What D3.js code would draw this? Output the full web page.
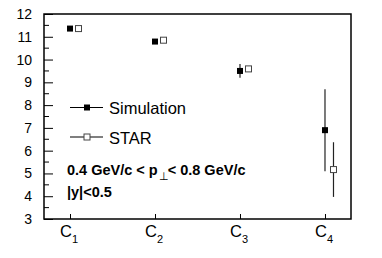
<!DOCTYPE html>
<html>
<head>
<meta charset="utf-8">
<script src="https://cdn.jsdelivr.net/npm/d3@7"></script>
<style>
  body { margin: 0; background: #fff; }
  text { font-family: "Liberation Sans", Arial, sans-serif; }
</style>
</head>
<body>
<div class="chart"></div>
<script>
var categories = [1, 2, 3, 4];
var catLabels = ["1", "2", "3", "4"];
var simValues = [11.36, 10.79, 9.5, 6.9];
var simErrors = [0.05, 0.05, 0.3, 1.8];
var starValues = [11.36, 10.85, 9.59, 5.17];
var starErrors = [0.04, 0.05, 0.08, 1.2];
var yTicks = [3, 4, 5, 6, 7, 8, 9, 10, 11, 12];

function init() {
    var w = 382;
    var h = 258;
    var left = 44, right = 351, top = 14, bottom = 219;
    var starShift = 0.1;

    var x = d3.scaleLinear().domain([0.694, 4.306]).range([left, right]);
    var y = d3.scaleLinear().domain([3, 12]).range([bottom, top]);

    var svg = d3.select(".chart")
        .append("svg")
        .attr("width", w)
        .attr("height", h);

    // frame
    svg.append("rect")
        .attr("x", left).attr("y", top)
        .attr("width", right - left).attr("height", bottom - top)
        .attr("fill", "none").attr("stroke", "#000").attr("stroke-width", 1.5);

    // y axis
    var yAxis = d3.axisLeft(y).tickValues(yTicks).tickSize(-9).tickPadding(12);
    var gy = svg.append("g").attr("transform", "translate(" + left + ",0)").call(yAxis);
    gy.select(".domain").remove();
    gy.selectAll("text").attr("font-size", 14).attr("fill", "#000")
        .attr("font-family", "Liberation Sans, Arial, sans-serif");
    gy.selectAll("line").attr("stroke", "#000");

    var minor = d3.range(3.5, 12, 1);
    svg.selectAll("line.minor")
        .data(minor)
        .enter()
        .append("line")
        .attr("x1", left).attr("x2", left + 5)
        .attr("y1", function(d) { return y(d); })
        .attr("y2", function(d) { return y(d); })
        .attr("stroke", "#000");

    // x axis
    var xAxis = d3.axisBottom(x).tickValues(categories).tickSize(-5).tickFormat("");
    var gx = svg.append("g").attr("transform", "translate(0," + bottom + ")").call(xAxis);
    gx.select(".domain").remove();
    gx.selectAll("line").attr("stroke", "#000");

    var xl = svg.selectAll("text.xlab")
        .data(categories)
        .enter()
        .append("text")
        .attr("class", "xlab")
        .attr("x", function(d) { return x(d) - 1; })
        .attr("y", 237)
        .attr("text-anchor", "middle")
        .attr("font-size", 16.5);
    xl.append("tspan").text("C");
    xl.append("tspan").attr("dy", 6).attr("font-size", 11)
        .text(function(d, i) { return catLabels[i]; });

    // error bars
    svg.selectAll("line.simerr")
        .data(categories)
        .enter()
        .append("line")
        .attr("x1", function(d) { return x(d); })
        .attr("x2", function(d) { return x(d); })
        .attr("y1", function(d, i) { return y(simValues[i] - simErrors[i]); })
        .attr("y2", function(d, i) { return y(simValues[i] + simErrors[i]); })
        .attr("stroke", "#222").attr("stroke-width", 1.2);

    svg.selectAll("line.starerr")
        .data(categories)
        .enter()
        .append("line")
        .attr("x1", function(d) { return x(d + starShift); })
        .attr("x2", function(d) { return x(d + starShift); })
        .attr("y1", function(d, i) { return y(starValues[i] - starErrors[i]); })
        .attr("y2", function(d, i) { return y(starValues[i] + starErrors[i]); })
        .attr("stroke", "#222").attr("stroke-width", 1.2);

    // markers
    var s = 6;
    svg.selectAll("rect.sim")
        .data(categories)
        .enter()
        .append("rect")
        .attr("x", function(d) { return x(d) - s / 2; })
        .attr("y", function(d, i) { return y(simValues[i]) - s / 2; })
        .attr("width", s).attr("height", s)
        .attr("fill", "#000");

    svg.selectAll("rect.star")
        .data(categories)
        .enter()
        .append("rect")
        .attr("x", function(d) { return x(d + starShift) - s / 2; })
        .attr("y", function(d, i) { return y(starValues[i]) - s / 2; })
        .attr("width", s).attr("height", s)
        .attr("fill", "#fff").attr("stroke", "#444").attr("stroke-width", 1);

    // legend
    var leg = [
        { name: "Simulation", y: 107.5, fill: "#000", stroke: "none" },
        { name: "STAR", y: 137, fill: "#fff", stroke: "#444" }
    ];
    var lg = svg.selectAll("g.leg")
        .data(leg)
        .enter()
        .append("g")
        .attr("transform", function(d) { return "translate(0," + d.y + ")"; });
    lg.append("line").attr("x1", 70).attr("x2", 103).attr("stroke", "#000").attr("stroke-width", 1.2);
    lg.append("rect").attr("x", 84).attr("y", -3).attr("width", 6).attr("height", 6)
        .attr("fill", function(d) { return d.fill; })
        .attr("stroke", function(d) { return d.stroke; });
    lg.append("text").attr("x", 109).attr("y", 6.5).attr("font-size", 16.5)
        .text(function(d) { return d.name; });

    // annotation
    var t1 = svg.append("text").attr("x", 67).attr("y", 175)
        .attr("font-size", 14.5).attr("font-weight", "bold");
    t1.append("tspan").text("0.4 GeV/c < p");
    t1.append("tspan").attr("dy", 5).attr("dx", 1).attr("font-size", 11).attr("font-weight", "normal").text("\u22A5");
    t1.append("tspan").attr("dy", -5).attr("dx", -1).text("< 0.8 GeV/c");

    svg.append("text").attr("x", 67).attr("y", 197)
        .attr("font-size", 14.5).attr("font-weight", "bold")
        .text("|y|<0.5");
}

init()
</script>
</body>
</html>
